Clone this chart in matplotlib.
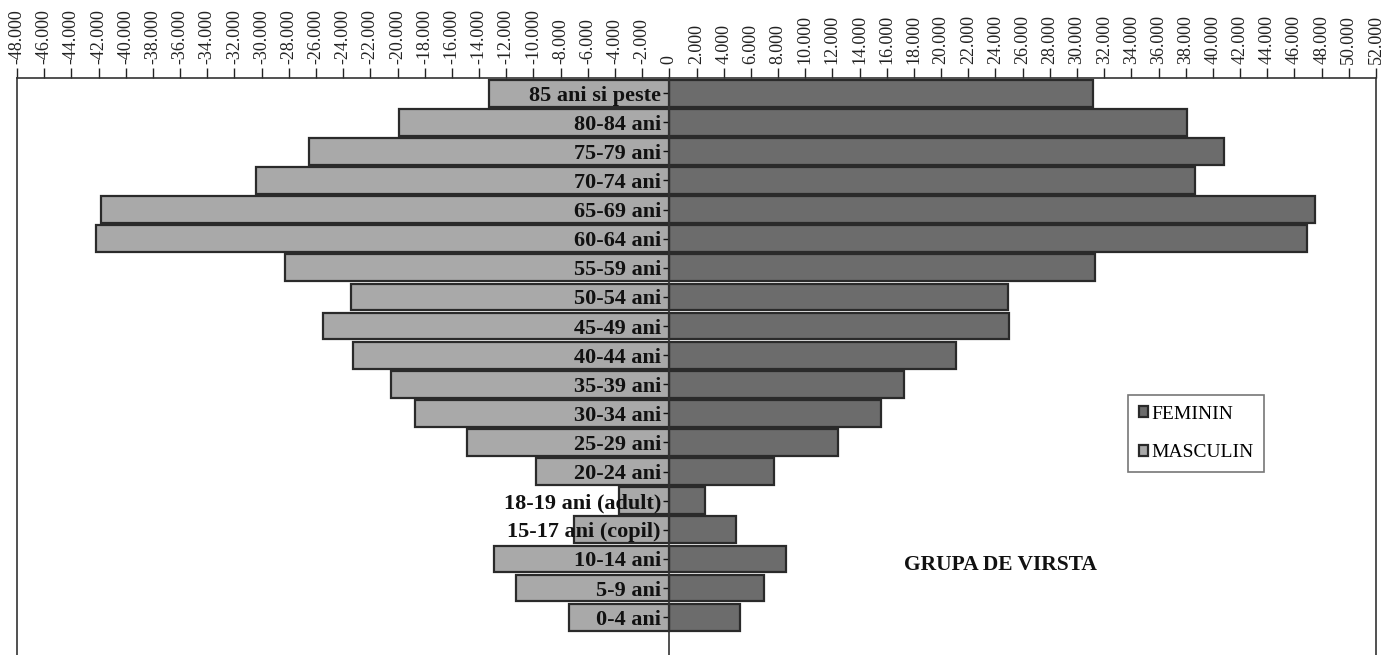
import matplotlib.pyplot as plt
import matplotlib.ticker as mticker
import numpy as np

# age groups, bottom to top
grupe = ["0-4 ani", "5-9 ani", "10-14 ani", "15-17 ani (copil)", "18-19 ani (adult)",
         "20-24 ani", "25-29 ani", "30-34 ani", "35-39 ani", "40-44 ani", "45-49 ani",
         "50-54 ani", "55-59 ani", "60-64 ani", "65-69 ani", "70-74 ani", "75-79 ani",
         "80-84 ani", "85 ani si peste"]
masculin = [-7400, -11300, -12900, -7000, -3700, -9800, -14900, -18700, -20500, -23300,
            -25500, -23400, -28300, -42200, -41800, -30400, -26500, -19900, -13300]
feminin = [5200, 7000, 8600, 4900, 2600, 7700, 12400, 15600, 17300, 21100, 25000,
           24900, 31300, 46900, 47500, 38700, 40800, 38100, 31200]
x_ticks = np.arange(-48000, 52001, 2000)

serif = ["Liberation Serif", "DejaVu Serif"]

fig = plt.figure(figsize=(13.86, 6.55), dpi=100)
ax = fig.add_axes([17 / 1386, 0.0, (1376 - 17) / 1386, 1 - 78 / 655])

y = np.arange(len(grupe))
ax.barh(y, feminin, height=0.92, color="#6c6c6c", edgecolor="#2a2a2a", linewidth=1.6,
        label="FEMININ")
ax.barh(y, masculin, height=0.92, color="#a9a9a9", edgecolor="#2a2a2a", linewidth=1.6,
        label="MASCULIN")

ax.set_xlim(-48000, 52000)
ax.set_ylim(-1.3, len(grupe) - 0.48)

# x axis on top, labels "-48.000"
ax.xaxis.tick_top()
ax.set_xticks(x_ticks)
ax.xaxis.set_major_formatter(mticker.FuncFormatter(
    lambda v, p: "{:,.0f}".format(v).replace(",", ".")))
ax.tick_params(axis="x", direction="out", length=7, width=1, pad=3, labelsize=13,
               labelrotation=90, colors="#222222")
for t in ax.get_xticklabels():
    t.set_family(serif)

# y axis through zero
ax.spines["left"].set_position(("data", 0))
ax.spines["bottom"].set_visible(False)
for s in ["left", "top", "right"]:
    ax.spines[s].set_color("#333333")
    ax.spines[s].set_linewidth(1.2)
ax.plot([0, 0], [0, 1], transform=ax.transAxes, color="#333333", lw=1.2, clip_on=False)

ax.set_yticks(y)
ax.set_yticklabels(grupe)
ax.tick_params(axis="y", direction="out", length=4, width=1, pad=2, labelsize=16,
               colors="#111111")
for t in ax.get_yticklabels():
    t.set_family(serif)
    t.set_fontweight("bold")

ax.text(17300, 1.8, "GRUPA DE VIRSTA", family=serif, fontweight="bold", fontsize=15.5,
        color="#111111", va="center")

# legend box placed like the original (pixels -> axes fraction)
leg_x = (1128 - 17) / 1359
leg_y = 1 - (395 - 78) / 577
h, l = ax.get_legend_handles_labels()
leg = ax.legend(h, l, loc="upper left", bbox_to_anchor=(leg_x, leg_y),
                frameon=True, fancybox=False, edgecolor="#555555",
                handlelength=0.5, handleheight=0.5, handletextpad=0.15, labelspacing=1.1,
                borderpad=0.55, borderaxespad=0,
                prop={"family": serif, "size": 14})
leg.get_frame().set_linewidth(1.2)

fig.savefig("out.png", dpi=100)
